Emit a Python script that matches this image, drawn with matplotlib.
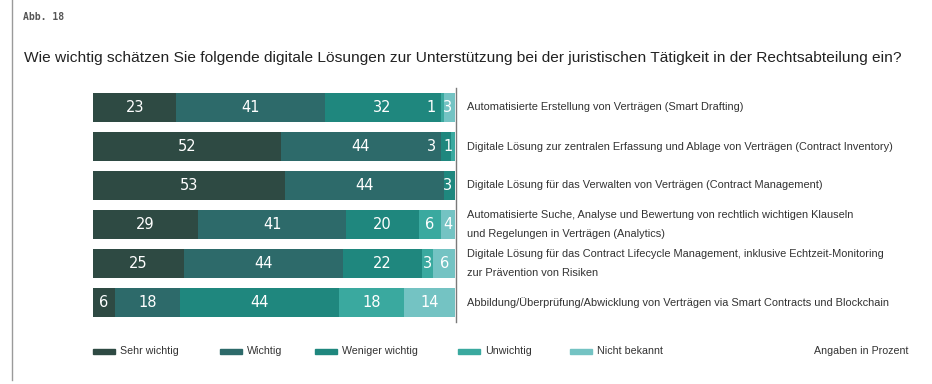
import matplotlib
matplotlib.use("Agg")
import matplotlib.pyplot as plt
from matplotlib.patches import Rectangle
from matplotlib.lines import Line2D

categories = [
    "Automatisierte Erstellung von Verträgen (Smart Drafting)",
    "Digitale Lösung zur zentralen Erfassung und Ablage von Verträgen (Contract Inventory)",
    "Digitale Lösung für das Verwalten von Verträgen (Contract Management)",
    "Automatisierte Suche, Analyse und Bewertung von rechtlich wichtigen Klauseln\nund Regelungen in Verträgen (Analytics)",
    "Digitale Lösung für das Contract Lifecycle Management, inklusive Echtzeit-Monitoring\nzur Prävention von Risiken",
    "Abbildung/Überprüfung/Abwicklung von Verträgen via Smart Contracts und Blockchain",
]
series_names = ["Sehr wichtig", "Wichtig", "Weniger wichtig", "Unwichtig", "Nicht bekannt"]
sehr_wichtig = [23, 52, 53, 29, 25, 6]
wichtig = [41, 44, 44, 41, 44, 18]
weniger_wichtig = [32, 3, 3, 20, 22, 44]
unwichtig = [1, 1, 0, 6, 3, 18]
nicht_bekannt = [3, 0, 0, 4, 6, 14]
series = [sehr_wichtig, wichtig, weniger_wichtig, unwichtig, nicht_bekannt]
colors = ["#2e4a43", "#2d6a6a", "#1f877e", "#3aa99f", "#74c3c3"]

title = "Wie wichtig schätzen Sie folgende digitale Lösungen zur Unterstützung bei der juristischen Tätigkeit in der Rechtsabteilung ein?"

W, H = 932, 384
fig = plt.figure(figsize=(W / 100, H / 100), dpi=100)

# left border line
fig.add_artist(Line2D([12 / W, 12 / W], [0.01, 1.0], color="#9a9a9a", lw=1.0))
fig.text(23 / W, 1 - 17 / H, "Abb. 18", fontsize=7, fontweight="bold",
         family="DejaVu Sans Mono", color="#555555", va="center")
fig.text(24 / W, 1 - 58 / H, title, fontsize=11.15, color="#222222", va="center",
         family="Liberation Sans")

ax = fig.add_axes([93 / W, 1 - 322 / H, 362 / W, 234 / H])
ax.set_xlim(0, 100)
ax.set_ylim(5.5, -0.5)
ax.axis("off")
ax.plot([100.4, 100.4], [-0.5, 5.5], color="#7a7a7a", lw=1.0, clip_on=False)

n = len(categories)
for i in range(n):
    left = 0
    centers = []
    vals = []
    for s, c in zip(series, colors):
        v = s[i]
        if v > 0:
            ax.barh(i, v, left=left, height=0.72, color=c, edgecolor="none")
            centers.append(left + v / 2)
            vals.append(v)
        left += v
    # resolve label overlaps from the right
    xs = [0] * len(centers)
    nxt = 98.0 + 4.5
    for k in range(len(centers) - 1, -1, -1):
        x = min(centers[k], nxt - 4.5)
        xs[k] = x
        nxt = x
    for x, v in zip(xs, vals):
        ax.text(x, i, str(v), color="white", fontsize=10.5, ha="center",
                va="center", family="DejaVu Sans")
    ax.text(103.3, i, categories[i], fontsize=7.9, color="#333333", va="center",
            ha="left", linespacing=2.1, family="Liberation Sans", clip_on=False)

# legend
leg_x = [93, 220, 315, 458, 570]
for x, name, c in zip(leg_x, series_names, colors):
    fig.add_artist(Rectangle((x / W, 1 - 354 / H), 22 / W, 5 / H, color=c,
                             transform=fig.transFigure))
    fig.text((x + 27) / W, 1 - 351 / H, name, fontsize=7.7, color="#333333",
             va="center", family="Liberation Sans")
fig.text(909 / W, 1 - 351 / H, "Angaben in Prozent", fontsize=7.7, color="#333333",
         va="center", ha="right", family="Liberation Sans")

fig.savefig("out.png", dpi=100)
